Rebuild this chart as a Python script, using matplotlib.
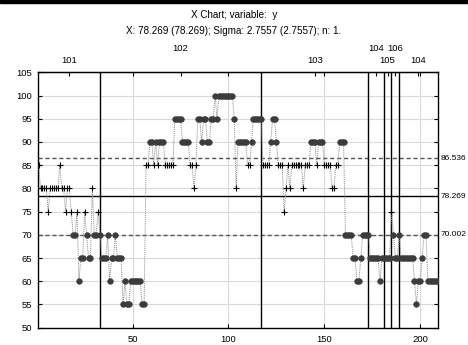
import numpy as np
import matplotlib
matplotlib.use("Agg")
import matplotlib.pyplot as plt
import matplotlib.transforms as mtransforms

plt.rcParams['font.family'] = ['Liberation Sans', 'DejaVu Sans']

# Individual measurements (sample 1..209)
y_values = [
    85, 80, 80, 80, 80, 75, 80, 80, 80, 80,
    80, 85, 80, 80, 75, 80, 80, 75, 70, 70,
    75, 60, 65, 65, 75, 70, 65, 65, 80, 70,
    70, 75, 70, 65, 65, 65, 70, 60, 65, 65,
    70, 65, 65, 65, 55, 60, 55, 55, 60, 60,
    60, 60, 60, 60, 55, 55, 85, 85, 90, 90,
    85, 90, 85, 90, 90, 90, 85, 85, 85, 85,
    85, 95, 95, 95, 95, 90, 90, 90, 90, 85,
    85, 80, 85, 95, 95, 90, 95, 95, 90, 90,
    95, 95, 100, 95, 100, 100, 100, 100, 100, 100,
    100, 100, 95, 80, 90, 90, 90, 90, 90, 85,
    85, 90, 95, 95, 95, 95, 95, 85, 85, 85,
    85, 90, 95, 95, 90, 85, 85, 85, 75, 80,
    85, 80, 85, 85, 85, 85, 85, 85, 80, 85,
    85, 85, 90, 90, 90, 85, 90, 90, 90, 85,
    85, 85, 85, 80, 80, 85, 85, 90, 90, 90,
    70, 70, 70, 70, 65, 65, 60, 60, 65, 70,
    70, 70, 70, 65, 65, 65, 65, 65, 60, 65,
    65, 65, 65, 65, 75, 70, 65, 65, 70, 65,
    65, 65, 65, 65, 65, 65, 60, 55, 60, 60,
    65, 70, 70, 60, 60, 60, 60, 60, 60,
]
samples = np.arange(1, len(y_values) + 1)

# Control limits
center = 78.269
sigma = 2.7557
ucl = 86.536
lcl = 70.002

# Phases: start sample of each phase and its label
phase_starts = [1, 33, 117, 173, 181, 185, 189]
phase_labels = ['101', '102', '103', '104', '105', '106', '104']

x_ticks = [50, 100, 150, 200]
y_ticks = list(range(50, 106, 5))

fig = plt.figure(figsize=(4.68, 3.45), dpi=100)
ax = fig.add_axes([37.7 / 468, 17.3 / 345, 400 / 468, 255.4 / 345])

fs = 6.8
xmin, xmax = 0.5, 209.1
ax.set_xlim(xmin, xmax)
ax.set_ylim(50, 105)

ax.grid(True, color='#d9d9d9', lw=0.8)
ax.set_axisbelow(True)

ax.set_xticks(x_ticks)
ax.set_yticks(y_ticks)
ax.tick_params(direction='in', length=3, width=0.8, labelsize=fs,
               top=True, right=True, labelright=False, colors='black')
ax.tick_params(axis='y', pad=4)
ax.tick_params(axis='x', pad=5)
for s in ax.spines.values():
    s.set_linewidth(1.0)

# limit and center lines
ax.axhline(ucl, color='#555555', lw=1.0, ls=(0, (3, 2)))
ax.axhline(lcl, color='#555555', lw=1.0, ls=(0, (3, 2)))
ax.axhline(center, color='black', lw=1.0)

# phase boundaries
for xs in phase_starts[1:]:
    ax.axvline(xs, color='black', lw=1.0)

y = np.array(y_values, dtype=float)
ax.plot(samples, y, color='#8a8a8a', lw=0.7, ls=(0, (1, 1)), zorder=3)
inside = (y > lcl) & (y < ucl)
ax.plot(samples[inside], y[inside], ls='none', marker='+', ms=4.5,
        mew=0.8, color='black', zorder=4)
ax.plot(samples[~inside], y[~inside], ls='none', marker='o', ms=4.0,
        mfc='#3c3c3c', mec='#3c3c3c', mew=0.5, zorder=4)

# right-hand limit labels
trans_r = mtransforms.blended_transform_factory(ax.transAxes, ax.transData)
for val, txt in [(ucl, '86.536'), (center, '78.269'), (lcl, '70.002')]:
    ax.text(1.008, val, txt, transform=trans_r, ha='left', va='center',
            fontsize=6.0, clip_on=False)

# phase labels, alternating rows, centred on each phase
bounds = phase_starts + [xmax]
mids = [(xmin + bounds[1]) / 2 if k == 0 else (bounds[k] + bounds[k + 1]) / 2
        for k in range(len(phase_labels))]
trans_t = mtransforms.blended_transform_factory(ax.transData, ax.transAxes)
for k, (m, lab) in enumerate(zip(mids, phase_labels)):
    yy = 1.048 if k % 2 == 0 else 1.095
    ax.text(m, yy, lab, transform=trans_t, ha='center', va='center', fontsize=fs)

sec = ax.secondary_xaxis('top')
sec.set_xticks(mids)
sec.set_xticklabels([])
sec.tick_params(direction='in', length=3, width=0.8)

fig.text(0.5, 1 - 15 / 345, 'X Chart; variable:  y', ha='center', va='center', fontsize=7.1)
fig.text(0.5, 1 - 31 / 345, 'X: 78.269 (78.269); Sigma: 2.7557 (2.7557); n: 1.',
         ha='center', va='center', fontsize=7.1)

# top border band
fig.patches.append(plt.Rectangle((0, 1 - 3 / 345), 1, 3 / 345, transform=fig.transFigure,
                                 color='black', zorder=10))

fig.savefig('out.png', dpi=100)
